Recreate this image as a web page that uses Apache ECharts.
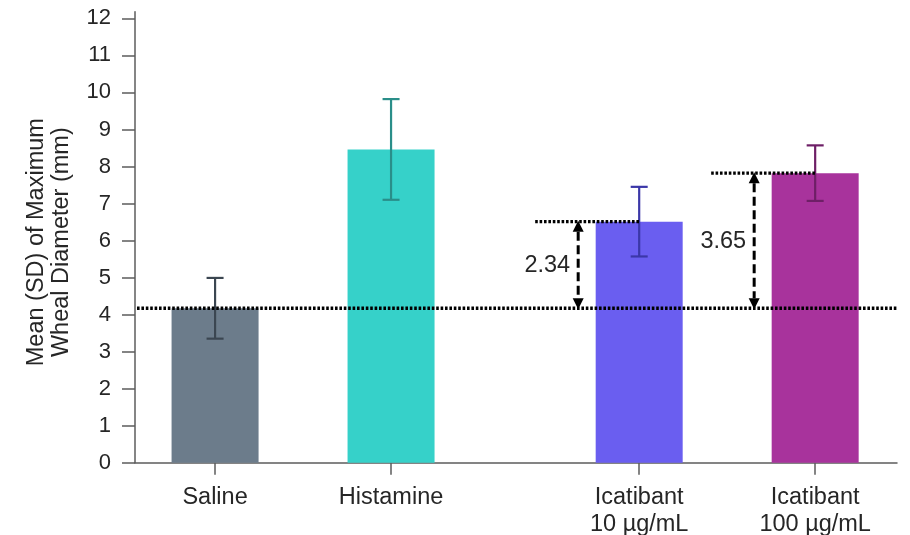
<!DOCTYPE html>
<html>
<head>
<meta charset="utf-8">
<script src="https://cdn.jsdelivr.net/npm/echarts@6/dist/echarts.min.js"></script>
<style>
  html, body { margin: 0; padding: 0; background: #fff; }
  #chart { width: 910px; height: 535px; }
</style>
</head>
<body>
<div id="chart"></div>
<script>
// Wheal diameter by treatment group: mean and SD (mm)
const categories = ['Saline', 'Histamine', 'Icatibant\n10 µg/mL', 'Icatibant\n100 µg/mL'];
const means = [4.17, 8.46, 6.51, 7.82];
const sds = [0.82, 1.36, 0.94, 0.75];
const yTicks = [0, 1, 2, 3, 4, 5, 6, 7, 8, 9, 10, 11, 12];
// groups whose difference from saline is annotated
const comparedGroups = [2, 3];
const referenceGroup = 0;

// horizontal placement of each group on the x scale (gap before the icatibant pair)
const slots = [1, 3, 5.82, 7.82];
const barColors = ['#6c7c8b', '#36d1c9', '#6a5ef0', '#a8339c'];
const errColors = ['#3b4651', '#2a8e89', '#3b37a8', '#6e1f66'];
const textColor = '#262626';
const axisColor = '#5c5c5c';
const fontFamily = '"Liberation Sans", Arial, Helvetica, sans-serif';

const chart = echarts.init(document.getElementById('chart'), null, { renderer: 'canvas' });

const barData = means.map((m, i) => ({
  value: [slots[i], m],
  itemStyle: { color: barColors[i] }
}));
const errData = means.map((m, i) => [slots[i], m - sds[i], m + sds[i]]);
const refMean = means[referenceGroup];
const compareData = comparedGroups.map(i => [slots[i], means[i], refMean]);

function errorBar(params, api) {
  const x = api.value(0);
  const lo = api.coord([x, api.value(1)]);
  const hi = api.coord([x, api.value(2)]);
  const half = 8.5;
  const style = { stroke: errColors[params.dataIndex], lineWidth: 2.2 };
  return {
    type: 'group',
    children: [
      { type: 'line', shape: { x1: hi[0], y1: hi[1], x2: lo[0], y2: lo[1] }, style },
      { type: 'line', shape: { x1: hi[0] - half, y1: hi[1], x2: hi[0] + half, y2: hi[1] }, style },
      { type: 'line', shape: { x1: lo[0] - half, y1: lo[1], x2: lo[0] + half, y2: lo[1] }, style }
    ]
  };
}

const dotted = { stroke: '#000', lineWidth: 3.4, lineDash: [2.6, 1.8] };

function referenceLine(params, api) {
  const cs = params.coordSys;
  const p = api.coord([api.value(0), api.value(1)]);
  return {
    type: 'line',
    shape: { x1: cs.x + 2, y1: p[1], x2: cs.x + cs.width, y2: p[1] },
    style: dotted
  };
}

function comparison(params, api) {
  const x = api.value(0);
  const top = api.coord([x, api.value(1)]);
  const base = api.coord([x, api.value(2)]);
  const ax = top[0] - 61;
  const head = 10, hw = 5.5;
  const diff = (api.value(1) - api.value(2)).toFixed(2);
  return {
    type: 'group',
    children: [
      { type: 'line', shape: { x1: top[0] - 104, y1: top[1], x2: top[0], y2: top[1] }, style: dotted },
      { type: 'line', shape: { x1: ax, y1: top[1] + head, x2: ax, y2: base[1] - head },
        style: { stroke: '#000', lineWidth: 3, lineDash: [9, 4.5] } },
      { type: 'polygon', shape: { points: [[ax, top[1] - 1], [ax - hw, top[1] + head], [ax + hw, top[1] + head]] },
        style: { fill: '#000' } },
      { type: 'polygon', shape: { points: [[ax, base[1] + 1], [ax - hw, base[1] - head], [ax + hw, base[1] - head]] },
        style: { fill: '#000' } },
      { type: 'text',
        style: { text: diff, x: ax - 8, y: (top[1] + base[1]) / 2 + 1, align: 'right', verticalAlign: 'middle',
                 fontSize: 23.5, fontFamily, fill: textColor } }
    ]
  };
}

const option = {
  animation: false,
  backgroundColor: '#fff',
  grid: { left: 135, right: 13, top: 11.7, bottom: 72.3, outerBoundsMode: 'none', containLabel: false },
  xAxis: {
    type: 'value',
    min: 0.09,
    max: 8.75,
    splitLine: { show: false },
    axisLine: { show: true, lineStyle: { color: axisColor, width: 1.5 } },
    axisTick: { show: true, customValues: slots, length: 12, lineStyle: { color: axisColor, width: 1.5 } },
    axisLabel: {
      customValues: slots,
      formatter: v => categories[slots.indexOf(v)],
      margin: 21,
      fontSize: 23.5,
      lineHeight: 27,
      color: textColor,
      fontFamily
    }
  },
  yAxis: {
    type: 'value',
    min: 0,
    max: 12.18,
    splitLine: { show: false },
    axisLine: { show: true, lineStyle: { color: axisColor, width: 1.5 } },
    axisTick: { show: true, customValues: yTicks, length: 13, lineStyle: { color: axisColor, width: 1.5 } },
    axisLabel: { customValues: yTicks, margin: 24, fontSize: 22, color: textColor, fontFamily },
    name: 'Mean (SD) of Maximum\nWheal Diameter (mm)',
    nameLocation: 'middle',
    nameRotate: 90,
    nameGap: 61,
    nameTextStyle: { fontSize: 23.5, lineHeight: 25, color: textColor, fontFamily, padding: [0, 10, 0, 0] }
  },
  series: [
    { type: 'bar', data: barData, barWidth: 87, z: 2 },
    { type: 'custom', data: errData, renderItem: errorBar, z: 4 },
    { type: 'custom', data: [[slots[referenceGroup], refMean]], renderItem: referenceLine, z: 5 },
    { type: 'custom', data: compareData, renderItem: comparison, z: 5 }
  ]
};

chart.setOption(option);
</script>
</body>
</html>
